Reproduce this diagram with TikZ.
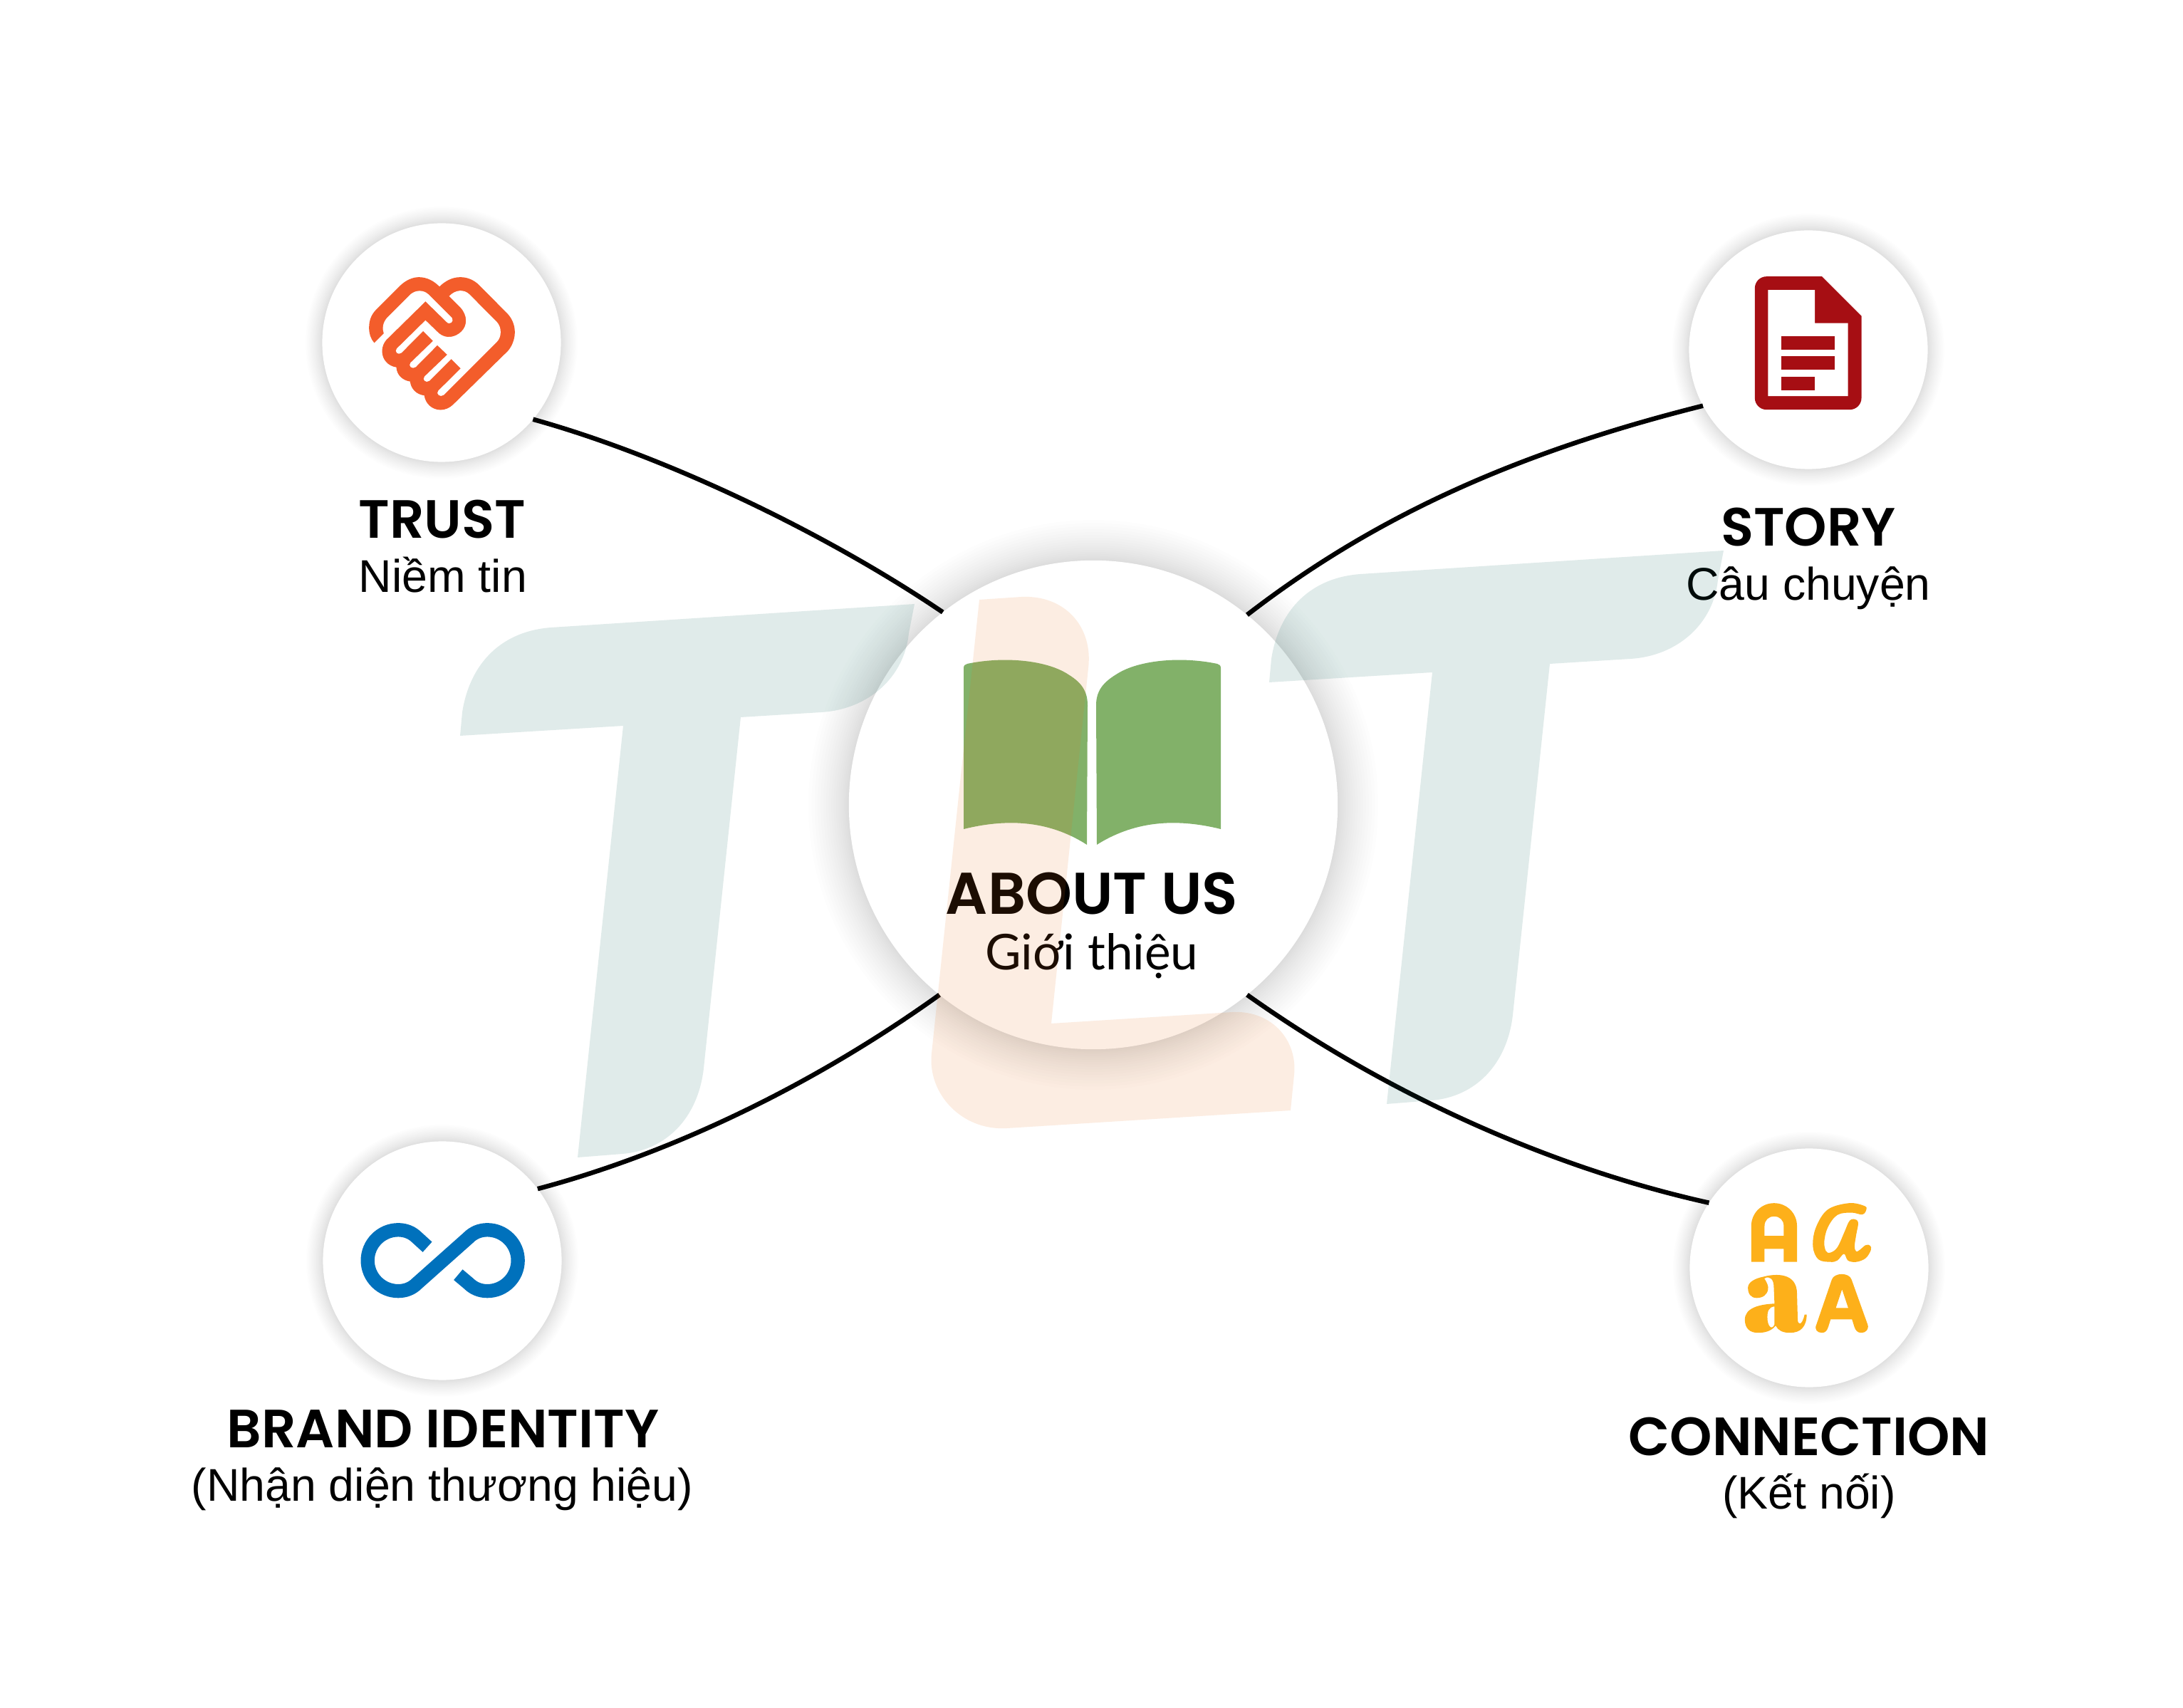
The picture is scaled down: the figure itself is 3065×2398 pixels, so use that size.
\documentclass[tikz,border=0pt]{standalone}
\usepackage{fontspec}
\setmainfont{Liberation Sans}
\newfontfamily\titlefont{Poppins SemiBold}
\newfontfamily\aboutfont{Lato}
\definecolor{trustred}{HTML}{F35D2B}
\definecolor{storyred}{HTML}{A60E13}
\definecolor{brandblue}{HTML}{0071BC}
\definecolor{linkyellow}{HTML}{FDB01A}
\definecolor{bookgreen}{HTML}{82B169}
\definecolor{teeink}{HTML}{006158}
\definecolor{ellink}{HTML}{ED6E11}
\tikzset{
	topic/.style = {circle, fill = white, minimum size = 3.35cm, inner sep = 0pt, outer sep = 0pt},
	hub/.style = {circle, fill = white, minimum size = 6.86cm, inner sep = 0pt, outer sep = 0pt},
	title/.style = {anchor = base, font = \titlefont\fontsize{21.5}{24}\selectfont, inner sep = 0pt},
	subtitle/.style = {anchor = base, font = \fontsize{18.3}{22}\selectfont, inner sep = 0pt},
	link/.style = {line width = 0.65mm, black}
}
\newcommand{\softshadow}[4]{%
	\foreach \g in {1,...,20} {
		\fill[black, opacity = 0.008] (#1,#2) circle ({#3 + #4*pow(\g/20,1.5)});
	}
}
\newcommand{\teeshape}{
	(1284,848) -- (774,881) .. controls (705,886) and (660,930) .. (649,1000)
	-- (646,1033) -- (875,1019) -- (811,1625) -- (874,1620)
	.. controls (935,1615) and (980,1570) .. (988,1500)
	-- (1040,1007) -- (1153,1000) .. controls (1220,996) and (1270,950) .. (1276,889) -- cycle
}
\begin{document}
\begin{tikzpicture}[x = 0.01cm, y = -0.01cm]
	\useasboundingbox (0,0) rectangle (3065,2398);
	\fill[white] (0,0) rectangle (3065,2398);
	% shadows first, then the discs
	\softshadow{620}{481}{165}{26}
	\softshadow{2539}{491}{165}{26}
	\softshadow{621}{1770}{165}{26}
	\softshadow{2540}{1780}{165}{26}
	\softshadow{1535}{1130}{340}{60}
	\node[topic] (trust) at (620,481) {};
	\node[topic] (story) at (2539,491) {};
	\node[topic] (brand) at (621,1770) {};
	\node[topic] (connection) at (2540,1780) {};
	\node[hub] (about) at (1535,1130) {};
	% connectors
	\draw[link] (trust.-40) .. controls (940,642) and (1165,752) .. (about.128.6);
	\draw[link] (story.208.8) .. controls (2130,635) and (1930,725) .. (about.51);
	\draw[link] (brand.37) .. controls (940,1620) and (1140,1525) .. (about.231.2);
	\draw[link] (connection.147.3) .. controls (2180,1640) and (1950,1538) .. (about.-51.2);
	% book
	\fill[bookgreen] (1353,938) .. controls (1353,934) and (1355,933) .. (1358,932)
		.. controls (1410,921) and (1470,927) .. (1500,947)
		.. controls (1518,958) and (1527,970) .. (1527,990) -- (1526,1186)
		.. controls (1470,1150) and (1410,1150) .. (1353,1164) -- cycle;
	\fill[bookgreen] (1714,938) .. controls (1714,934) and (1712,933) .. (1709,932)
		.. controls (1657,921) and (1597,927) .. (1567,947)
		.. controls (1549,958) and (1539,970) .. (1539,990) -- (1540,1186)
		.. controls (1597,1150) and (1657,1150) .. (1714,1164) -- cycle;
	% handshake
	\begin{scope}[shift = {(420,280)}, x = 0.00333cm, y = -0.00333cm]
		\fill[trustred] (317,605) .. controls (300,585) and (295,565) .. (295,540)
			.. controls (295,510) and (305,485) .. (325,465) -- (425,365)
			.. controls (450,340) and (480,328) .. (505,328)
			.. controls (540,328) and (570,345) .. (592,368)
			.. controls (615,345) and (645,328) .. (680,328)
			.. controls (710,328) and (738,340) .. (760,362) -- (875,478)
			.. controls (898,500) and (910,530) .. (910,560)
			.. controls (910,590) and (898,620) .. (880,640) -- (650,865)
			.. controls (635,880) and (615,888) .. (597,888)
			.. controls (560,888) and (532,860) .. (528,827)
			.. controls (495,823) and (472,800) .. (468,768)
			.. controls (435,763) and (412,740) .. (410,708)
			.. controls (375,703) and (350,675) .. (350,640)
			.. controls (350,622) and (357,605) .. (370,590)
			-- (400,540) -- (357,565) -- cycle;
		\fill[white] (357,565) .. controls (350,545) and (352,520) .. (372,498) -- (470,400)
			.. controls (495,380) and (525,382) .. (545,400) -- (645,500)
			.. controls (655,515) and (635,532) .. (622,517) -- (533,430) -- (370,590) -- cycle;
		\fill[white] (633,408) .. controls (660,380) and (695,378) .. (718,400) -- (835,518)
			.. controls (855,540) and (855,580) .. (835,600) -- (610,825)
			.. controls (595,837) and (575,820) .. (587,807) -- (682,713) -- (642,673) -- (550,765)
			.. controls (535,777) and (517,760) .. (529,747) -- (625,655) -- (583,615) -- (492,707)
			.. controls (477,719) and (458,702) .. (470,689) -- (565,597) -- (523,555) -- (432,647)
			.. controls (417,659) and (400,642) .. (412,629) -- (533,510) -- (590,565)
			.. controls (620,590) and (660,582) .. (685,557)
			.. controls (710,532) and (712,490) .. (680,455) -- cycle;
	\end{scope}
	% document
	\begin{scope}[shift = {(2340,290)}, x = 0.00333cm, y = -0.00333cm]
		\fill[storyred] (422,295) -- (655,295) -- (822,462) -- (822,807)
			.. controls (822,835) and (800,857) .. (772,857) -- (422,857)
			.. controls (394,857) and (372,835) .. (372,807) -- (372,345)
			.. controls (372,317) and (394,295) .. (422,295) -- cycle;
		\fill[white] (428,352) -- (625,352) -- (625,492) -- (765,492) -- (765,800) -- (428,800) -- cycle;
		\fill[storyred] (484,548) rectangle (710,605);
		\fill[storyred] (484,632) rectangle (710,689);
		\fill[storyred] (484,717) rectangle (625,774);
	\end{scope}
	% infinity
	\begin{scope}[shift = {(420,1590)}, x = 0.00333cm, y = -0.00333cm]
		\draw[brandblue, line width = 0.193cm] (541,483) -- (497,443)
			.. controls (477,423) and (450,411) .. (418,411)
			.. controls (347,411) and (289,469) .. (289,540)
			.. controls (289,611) and (347,669) .. (418,669)
			.. controls (450,669) and (477,657) .. (497,637) -- (715,443)
			.. controls (735,423) and (762,411) .. (794,411)
			.. controls (865,411) and (923,469) .. (923,540)
			.. controls (923,611) and (865,669) .. (794,669)
			.. controls (762,669) and (735,657) .. (715,637) -- (671,600);
	\end{scope}
	% letters
	\begin{scope}[shift = {(2340,1600)}, x = 0.00333cm, y = -0.00333cm]
		\fill[linkyellow, even odd rule] (357,516) -- (357,365)
			.. controls (357,310) and (400,268) .. (453,268)
			.. controls (507,268) and (550,310) .. (550,365) -- (550,516) -- (494,516) -- (494,461)
			-- (413,461) -- (413,516) -- cycle
			(413,406) -- (413,365) .. controls (413,340) and (430,324) .. (453,324)
			.. controls (478,324) and (494,340) .. (494,365) -- (494,406) -- cycle;
		\fill[linkyellow] plot[smooth cycle, tension = 0.6] coordinates {
			(770,268) (835,280) (842,297) (825,316) (780,308) (720,318) (680,370) (665,430)
			(672,470) (690,477) (720,455) (750,390) (770,345) (790,335) (808,350) (800,400)
			(793,450) (800,472) (815,465) (840,445) (858,447) (862,465) (840,500) (800,516)
			(765,510) (748,482) (720,510) (690,516) (640,505) (617,450) (630,370) (680,295)};
		\fill[linkyellow, even odd rule] (410,578) .. controls (460,565) and (550,560) .. (550,650)
			-- (553,760) .. controls (553,780) and (570,790) .. (582,738) -- (591,738)
			.. controls (590,790) and (565,815) .. (520,815)
			.. controls (490,815) and (470,805) .. (460,785)
			.. controls (440,810) and (410,815) .. (385,815)
			.. controls (350,815) and (330,795) .. (330,760)
			.. controls (330,710) and (390,695) .. (455,692) -- (452,620)
			.. controls (452,590) and (435,572) .. (412,586)
			.. controls (425,605) and (430,620) .. (428,630)
			.. controls (425,655) and (405,668) .. (380,668)
			.. controls (355,668) and (343,650) .. (343,625)
			.. controls (343,600) and (375,585) .. (410,578) -- cycle
			(455,704) .. controls (430,706) and (425,725) .. (425,750)
			.. controls (425,790) and (445,805) .. (455,780) -- cycle;
		\fill[linkyellow, even odd rule] (697,590) .. controls (708,560) and (770,560) .. (780,590)
			-- (848,780) .. controls (855,800) and (840,815) .. (822,815)
			.. controls (805,815) and (797,805) .. (792,790) -- (782,758) -- (692,758) -- (682,790)
			.. controls (677,805) and (670,815) .. (655,815)
			.. controls (635,815) and (622,800) .. (632,780) -- cycle
			(740,632) -- (714,710) -- (766,710) -- cycle;
	\end{scope}
	% labels
	\node[title] (trusttitle) at (621,756) {TRUST};
	\node[subtitle] (trustsub) at (622,832) {Niềm tin};
	\node[title] (storytitle) at (2539,767) {STORY};
	\node[subtitle] (storysub) at (2539,843) {Câu chuyện};
	\node[title] (brandtitle) at (622,2032) {BRAND IDENTITY};
	\node[subtitle] (brandsub) at (621,2107) {(Nhận diện thương hiệu)};
	\node[title] (connectiontitle) at (2540,2043) {CONNECTION};
	\node[subtitle] (connectionsub) at (2540,2118) {(Kết nối)};
	\node[title, font = \titlefont\fontsize{23.5}{26}\selectfont] (abouttitle) at (1533,1284) {ABOUT US};
	\node[subtitle, font = \aboutfont\fontsize{19.7}{24}\selectfont] (aboutsub) at (1533,1362) {Giới thiệu};
	% watermark letters lie over everything
	\begin{scope}[opacity = 0.12]
		\fill[teeink] \teeshape;
		\begin{scope}[shift = {(1136,-75)}]
			\fill[teeink] \teeshape;
		\end{scope}
		\fill[ellink] (1375,842) -- (1434,838) .. controls (1495,835) and (1535,880) .. (1528,938)
			-- (1476,1437) -- (1730,1421) .. controls (1785,1418) and (1822,1460) .. (1817,1509)
			-- (1812,1559) -- (1414,1584) .. controls (1350,1588) and (1302,1535) .. (1308,1479) -- cycle;
	\end{scope}
\end{tikzpicture}
\end{document}
